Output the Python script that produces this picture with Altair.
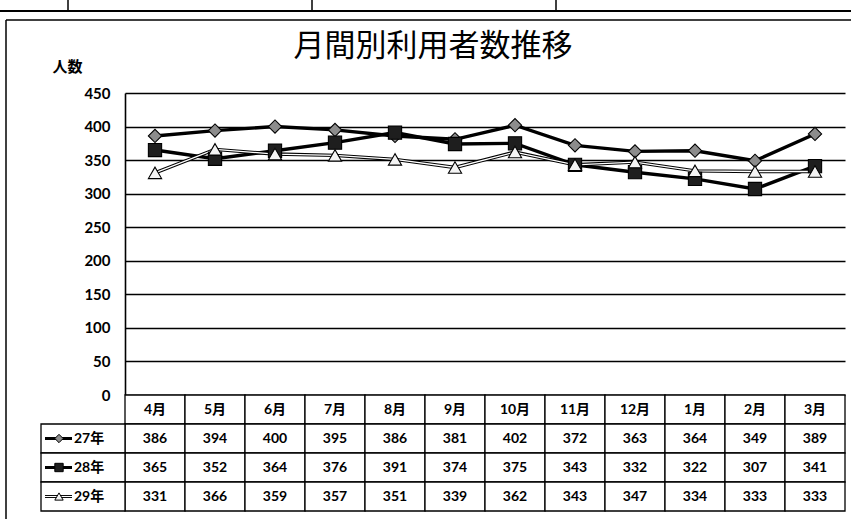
import altair as alt
import pandas as pd

# ---- data -------------------------------------------------------------
months = ["4月", "5月", "6月", "7月", "8月", "9月",
          "10月", "11月", "12月", "1月", "2月", "3月"]
series_names = ["27年", "28年", "29年"]
users_27 = [386, 394, 400, 395, 386, 381, 402, 372, 363, 364, 349, 389]
users_28 = [365, 352, 364, 376, 391, 374, 375, 343, 332, 322, 307, 341]
users_29 = [331, 366, 359, 357, 351, 339, 362, 343, 347, 334, 333, 333]
y_ticks = [0, 50, 100, 150, 200, 250, 300, 350, 400, 450]

title_text = "月間別利用者数推移"
y_title = "人数"

# ---- tables built from the arrays --------------------------------------
values = {"27年": users_27, "28年": users_28, "29年": users_29}
long = pd.DataFrame(
    [{"month": m, "series": s, "value": v}
     for s in series_names for m, v in zip(months, values[s])]
)

rows = ["head"] + series_names
cells = pd.concat([
    pd.DataFrame({"month": months, "row": "head", "label": months}),
    pd.DataFrame({"month": long["month"], "row": long["series"],
                  "label": long["value"].astype(str)}),
], ignore_index=True)
legend_rows = pd.DataFrame({"row": series_names, "series": series_names})
one = pd.DataFrame({"k": [0]})
title_df = pd.DataFrame({"t": [title_text]})

# ---- geometry ----------------------------------------------------------
PLOT_W = 720
PLOT_H = 302
TABLE_H = 116
LABEL_FONT = "Lato, Noto Sans CJK JP"

x_enc = alt.X("month:N", sort=months,
              scale=alt.Scale(type="band", domain=months,
                              paddingInner=0, paddingOuter=0),
              axis=None)

y_axis = alt.Axis(values=y_ticks, ticks=False, grid=True,
                  gridColor="black", gridWidth=1.4, gridOpacity=1,
                  domainColor="black", domainWidth=1.6,
                  labelFont="Lato", labelFontSize=15, labelFontWeight="bold",
                  labelColor="black", labelPadding=15,
                  title=y_title, titleAngle=0, titleFont="Noto Sans CJK JP",
                  titleFontSize=15, titleFontWeight="bold", titleColor="black",
                  titleX=-58, titleY=-27, titleAlign="center",
                  titleBaseline="middle")
y_val_scale = alt.Scale(domain=[0, 450], range=[PLOT_H, 0], nice=False)

y_row = alt.Y("row:N", sort=rows,
              scale=alt.Scale(type="band", domain=rows,
                              range=[PLOT_H, PLOT_H + TABLE_H],
                              paddingInner=0, paddingOuter=0),
              axis=None)

shape_enc = alt.Shape("series:N", legend=None,
                      scale=alt.Scale(domain=series_names,
                                      range=["diamond", "square", "triangle-up"]))
fill_enc = alt.Fill("series:N", legend=None,
                    scale=alt.Scale(domain=series_names,
                                    range=["#8c8c8c", "#1e1e1e", "#f4f4f4"]))

# ---- line chart --------------------------------------------------------
line_base = alt.Chart(long).encode(
    x=x_enc,
    y=alt.Y("value:Q", scale=y_val_scale, axis=y_axis),
)
lines = line_base.mark_line(color="black", strokeWidth=3.4).encode(
    detail="series:N")
light_core = line_base.transform_filter(
    alt.datum.series == "29年").mark_line(color="white", strokeWidth=1.3)
points = line_base.mark_point(filled=True, stroke="black", strokeWidth=1.1,
                              opacity=1, size=175).encode(
    shape=shape_enc, fill=fill_enc)

plot_layer = alt.layer(lines, light_core, points)

# ---- data table underneath --------------------------------------------
cell_rects = alt.Chart(cells).mark_rect(
    fill="white", stroke="black", strokeWidth=1.3).encode(x=x_enc, y=y_row)
cell_text = alt.Chart(cells).mark_text(
    font=LABEL_FONT, fontSize=14, fontWeight="bold", color="black").encode(
    x=x_enc, y=y_row, text="label:N")

key_rects = alt.Chart(legend_rows).mark_rect(
    fill="white", stroke="black", strokeWidth=1.3).encode(
    x=alt.value(-84), x2=alt.value(0), y=y_row)
key_lines = alt.Chart(legend_rows).mark_rule(
    color="black", strokeWidth=3).encode(
    x=alt.value(-80), x2=alt.value(-53), y=y_row)
key_core = alt.Chart(legend_rows).transform_filter(
    alt.datum.series == "29年").mark_rule(
    color="white", strokeWidth=1.1).encode(
    x=alt.value(-80), x2=alt.value(-53), y=y_row)
key_points = alt.Chart(legend_rows).mark_point(
    filled=True, stroke="black", strokeWidth=1, opacity=1, size=70).encode(
    x=alt.value(-66), y=y_row, shape=shape_enc, fill=fill_enc)
key_text = alt.Chart(legend_rows).mark_text(
    font=LABEL_FONT, fontSize=14, fontWeight="bold", color="black",
    align="left").encode(
    x=alt.value(-51), y=y_row, text="row:N")

# ---- chart title -------------------------------------------------------
title_mark = alt.Chart(title_df).mark_text(
    font="Noto Sans CJK JP", fontSize=31, fontWeight="normal", color="black",
    align="center", baseline="middle").encode(
    x=alt.value(308), y=alt.value(-46), text="t:N")

# ---- outer frame and the edge of the sheet above -----------------------
frame_left = alt.Chart(one).mark_rule(color="black", strokeWidth=1.5).encode(
    x=alt.value(-119), y=alt.value(-73), y2=alt.value(430))
frame_top = alt.Chart(one).mark_rule(color="black", strokeWidth=1.5).encode(
    x=alt.value(-119), x2=alt.value(730), y=alt.value(-73))
sheet_line = alt.Chart(one).mark_rule(color="black", strokeWidth=2).encode(
    x=alt.value(-125), x2=alt.value(730), y=alt.value(-82))
sheet_ticks = alt.layer(*[
    alt.Chart(one).mark_rule(color="black", strokeWidth=1.5).encode(
        x=alt.value(xv), y=alt.value(-95), y2=alt.value(-82))
    for xv in (-57, 187, 431)
])

table_layer = alt.layer(cell_rects, cell_text, key_rects, key_lines, key_core,
                        key_points, key_text, title_mark, frame_left,
                        frame_top, sheet_line, sheet_ticks)

chart = alt.layer(plot_layer, table_layer).resolve_scale(
    y="independent"
).properties(
    width=PLOT_W,
    height=PLOT_H + TABLE_H,
    padding={"left": 125, "top": 93, "right": 6, "bottom": 8},
    autosize=alt.AutoSizeParams(type="none"),
    background="white",
).configure_view(stroke=None)

chart.save("out.html", embed_options={"renderer": "svg", "actions": False})
